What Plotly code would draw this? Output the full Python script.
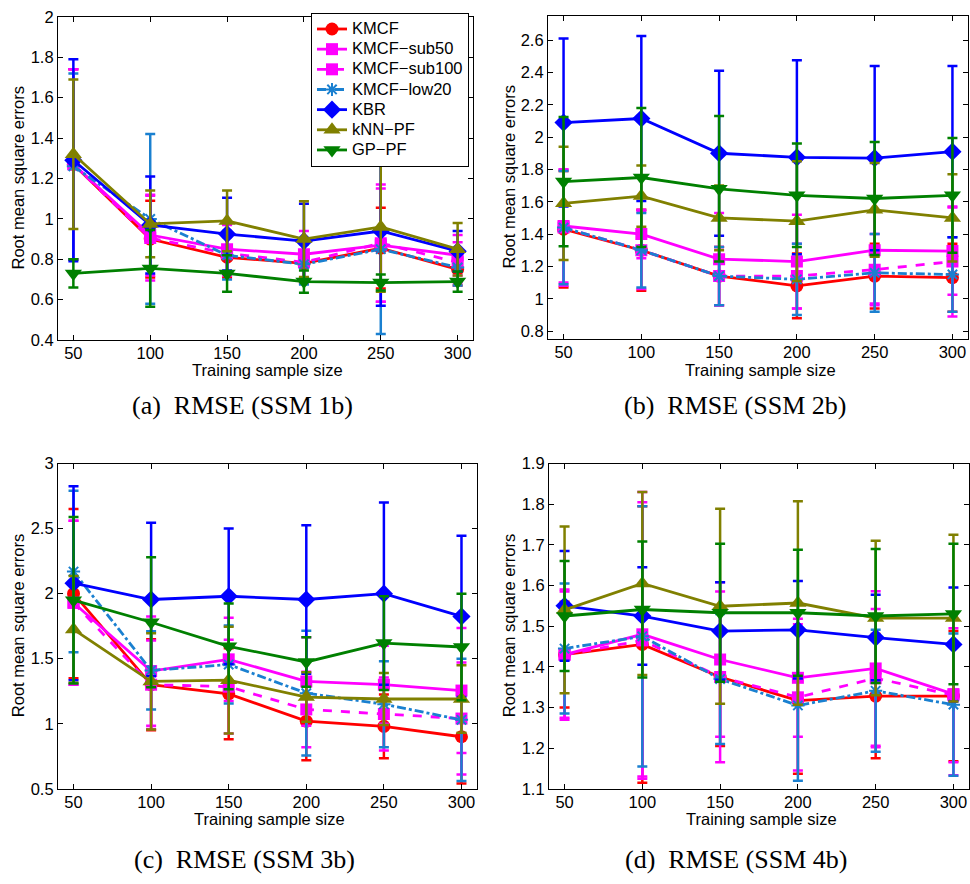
import plotly.graph_objects as go

W, H = 970, 884

x_sizes = [50, 100, 150, 200, 250, 300]
series_names = ["KMCF", "KMCF\u2212sub50", "KMCF\u2212sub100", "KMCF\u2212low20", "KBR", "kNN\u2212PF", "GP\u2212PF"]

# ---- Panel (a) SSM 1b ----
a_kmcf = [1.27, 0.90, 0.81, 0.78, 0.855, 0.75]
a_sub50 = [1.27, 0.92, 0.85, 0.825, 0.87, 0.82]
a_sub100 = [1.27, 0.905, 0.83, 0.785, 0.88, 0.785]
a_low20 = [1.26, 1.00, 0.82, 0.775, 0.85, 0.76]
a_kbr = [1.29, 0.97, 0.925, 0.89, 0.94, 0.84]
a_knn = [1.32, 0.975, 0.99, 0.90, 0.96, 0.85]
a_gp = [0.73, 0.755, 0.73, 0.69, 0.685, 0.69]
a_kmcf_sd = [0.47, 0.19, 0.10, 0.10, 0.20, 0.08]
a_sub50_sd = [0.47, 0.20, 0.12, 0.115, 0.28, 0.10]
a_sub100_sd = [0.47, 0.21, 0.11, 0.10, 0.29, 0.10]
a_low20_sd = [0.46, 0.42, 0.12, 0.10, 0.42, 0.09]
a_kbr_sd = [0.50, 0.24, 0.18, 0.185, 0.37, 0.10]
a_knn_sd = [0.37, 0.165, 0.15, 0.187, 0.32, 0.13]
a_gp_sd = [0.07, 0.19, 0.09, 0.055, 0.04, 0.05]

# ---- Panel (b) SSM 2b ----
b_kmcf = [1.43, 1.30, 1.14, 1.08, 1.14, 1.13]
b_sub50 = [1.45, 1.40, 1.245, 1.23, 1.30, 1.295]
b_sub100 = [1.44, 1.30, 1.14, 1.14, 1.18, 1.23]
b_low20 = [1.44, 1.30, 1.14, 1.12, 1.16, 1.15]
b_kbr = [2.09, 2.115, 1.90, 1.875, 1.87, 1.91]
b_knn = [1.59, 1.635, 1.50, 1.48, 1.55, 1.50]
b_gp = [1.725, 1.75, 1.68, 1.64, 1.62, 1.64]
b_kmcf_sd = [0.36, 0.25, 0.18, 0.20, 0.20, 0.21]
b_sub50_sd = [0.35, 0.15, 0.285, 0.29, 0.33, 0.27]
b_sub100_sd = [0.36, 0.24, 0.18, 0.20, 0.22, 0.34]
b_low20_sd = [0.35, 0.23, 0.18, 0.22, 0.24, 0.23]
b_kbr_sd = [0.52, 0.51, 0.51, 0.60, 0.57, 0.53]
b_knn_sd = [0.35, 0.19, 0.20, 0.37, 0.29, 0.27]
b_gp_sd = [0.40, 0.43, 0.45, 0.32, 0.35, 0.355]

# ---- Panel (c) SSM 3b ----
c_kmcf = [2.0, 1.30, 1.23, 1.02, 0.98, 0.90]
c_sub50 = [1.93, 1.405, 1.495, 1.325, 1.30, 1.255]
c_sub100 = [1.93, 1.30, 1.285, 1.11, 1.075, 1.04]
c_low20 = [2.17, 1.41, 1.455, 1.235, 1.15, 1.03]
c_kbr = [2.08, 1.955, 1.98, 1.955, 2.0, 1.825]
c_knn = [1.725, 1.325, 1.335, 1.205, 1.19, 1.19]
c_gp = [1.95, 1.78, 1.595, 1.475, 1.62, 1.59]
c_kmcf_sd = [0.65, 0.35, 0.35, 0.30, 0.245, 0.36]
c_sub50_sd = [0.63, 0.42, 0.32, 0.34, 0.30, 0.48]
c_sub100_sd = [0.63, 0.34, 0.36, 0.29, 0.28, 0.43]
c_low20_sd = [0.62, 0.30, 0.30, 0.48, 0.33, 0.47]
c_kbr_sd = [0.745, 0.59, 0.52, 0.57, 0.70, 0.62]
c_knn_sd = [0.41, 0.37, 0.41, 0.19, 0.20, 0.26]
c_gp_sd = [0.64, 0.50, 0.33, 0.19, 0.36, 0.41]

# ---- Panel (d) SSM 4b ----
d_kmcf = [1.43, 1.455, 1.375, 1.317, 1.328, 1.328]
d_sub50 = [1.43, 1.48, 1.418, 1.373, 1.396, 1.333]
d_sub100 = [1.43, 1.465, 1.375, 1.325, 1.372, 1.33]
d_low20 = [1.445, 1.475, 1.37, 1.305, 1.341, 1.307]
d_kbr = [1.55, 1.525, 1.488, 1.491, 1.472, 1.455]
d_knn = [1.54, 1.605, 1.549, 1.557, 1.52, 1.52]
d_gp = [1.525, 1.541, 1.533, 1.533, 1.525, 1.53]
d_kmcf_sd = [0.13, 0.34, 0.17, 0.18, 0.153, 0.16]
d_sub50_sd = [0.16, 0.35, 0.19, 0.145, 0.19, 0.20]
d_sub100_sd = [0.155, 0.34, 0.21, 0.18, 0.17, 0.165]
d_low20_sd = [0.16, 0.32, 0.16, 0.185, 0.15, 0.175]
d_kbr_sd = [0.135, 0.12, 0.12, 0.12, 0.105, 0.14]
d_knn_sd = [0.205, 0.225, 0.24, 0.25, 0.19, 0.205]
d_gp_sd = [0.135, 0.167, 0.17, 0.155, 0.165, 0.173]

panel_means = [
    [a_kmcf, a_sub50, a_sub100, a_low20, a_kbr, a_knn, a_gp],
    [b_kmcf, b_sub50, b_sub100, b_low20, b_kbr, b_knn, b_gp],
    [c_kmcf, c_sub50, c_sub100, c_low20, c_kbr, c_knn, c_gp],
    [d_kmcf, d_sub50, d_sub100, d_low20, d_kbr, d_knn, d_gp],
]
panel_sds = [
    [a_kmcf_sd, a_sub50_sd, a_sub100_sd, a_low20_sd, a_kbr_sd, a_knn_sd, a_gp_sd],
    [b_kmcf_sd, b_sub50_sd, b_sub100_sd, b_low20_sd, b_kbr_sd, b_knn_sd, b_gp_sd],
    [c_kmcf_sd, c_sub50_sd, c_sub100_sd, c_low20_sd, c_kbr_sd, c_knn_sd, c_gp_sd],
    [d_kmcf_sd, d_sub50_sd, d_sub100_sd, d_low20_sd, d_kbr_sd, d_knn_sd, d_gp_sd],
]

captions = ["(a)\u2002RMSE (SSM 1b)", "(b)\u2002RMSE (SSM 2b)", "(c)\u2002RMSE (SSM 3b)", "(d)\u2002RMSE (SSM 4b)"]
y_ranges = [[0.4, 2.0], [0.75, 2.75], [0.5, 3.0], [1.1, 1.9]]
y_tickvals = [
    [0.4, 0.6, 0.8, 1.0, 1.2, 1.4, 1.6, 1.8, 2.0],
    [0.8, 1.0, 1.2, 1.4, 1.6, 1.8, 2.0, 2.2, 2.4, 2.6],
    [0.5, 1.0, 1.5, 2.0, 2.5, 3.0],
    [1.1, 1.2, 1.3, 1.4, 1.5, 1.6, 1.7, 1.8, 1.9],
]
y_ticktext = [
    ["0.4", "0.6", "0.8", "1", "1.2", "1.4", "1.6", "1.8", "2"],
    ["0.8", "1", "1.2", "1.4", "1.6", "1.8", "2", "2.2", "2.4", "2.6"],
    ["0.5", "1", "1.5", "2", "2.5", "3"],
    ["1.1", "1.2", "1.3", "1.4", "1.5", "1.6", "1.7", "1.8", "1.9"],
]

colors = ["#ff0000", "#ff00ff", "#ff00ff", "#1a80d0", "#0000ff", "#808000", "#008000"]
dashes = ["solid", "solid", "dash", "dashdot", "solid", "solid", "solid"]
symbols = ["circle", "square", "square", "asterisk-open", "diamond", "triangle-up", "triangle-down"]
msizes = [13, 12, 12, 11, 14, 15, 15]

# plot boxes in pixels: (left, right, top, bottom)
boxes = [(58, 473, 8, 338), (548, 968, 7, 337), (58, 477, 464, 796), (549, 969, 464, 796)]

def px2x(px):
    return px / W

def px2y(py):
    return 1 - py / H

fig = go.Figure()
sans = "Liberation Sans, Arial, Helvetica, sans-serif"
serif = "Liberation Serif, Times New Roman, serif"
FS = 16.5

layout = dict(width=W, height=H, autosize=False, margin=dict(l=0, r=0, t=0, b=0),
              paper_bgcolor="white", plot_bgcolor="white", font=dict(family=sans, size=FS, color="black"))
annotations = []

for p in range(4):
    sfx = "" if p == 0 else str(p + 1)
    xa, ya = "x" + sfx, "y" + sfx
    for s in range(7):
        sym = symbols[s]
        marker = dict(symbol=sym, size=msizes[s], color=colors[s],
                      line=dict(color=colors[s], width=2 if "asterisk" in sym else 0))
        fig.add_trace(go.Scatter(
            x=x_sizes, y=panel_means[p][s],
            name='<span style="font-size:16.5px">' + series_names[s] + '</span>',
            mode="lines+markers", xaxis=xa, yaxis=ya,
            line=dict(color=colors[s], width=2.8, dash=dashes[s]),
            marker=marker,
            error_y=dict(type="data", array=panel_sds[p][s], visible=True,
                         color=colors[s], thickness=2.5, width=5),
            showlegend=(p == 0), legendgroup=series_names[s],
        ))
    l, r, t, b = boxes[p]
    axis_common = dict(showline=True, linecolor="black", linewidth=1.2, mirror="allticks",
                       ticks="inside", ticklen=5, tickcolor="black", tickwidth=1,
                       showgrid=False, zeroline=False,
                       tickfont=dict(family=sans, size=FS, color="black"))
    layout["xaxis" + sfx] = dict(axis_common, domain=[px2x(l), px2x(r)], range=[40, 310],
                                 tickvals=x_sizes, ticktext=[str(v) for v in x_sizes],
                                 ticklabelstandoff=-2, anchor=ya)
    layout["yaxis" + sfx] = dict(axis_common, domain=[px2y(b), px2y(t)], range=y_ranges[p],
                                 tickvals=y_tickvals[p], ticktext=y_ticktext[p],
                                 anchor=xa)
    cx = (l + r) / 2
    # x-axis title
    annotations.append(dict(text="Training sample size", x=px2x(cx + 2), y=px2y(b + 31),
                            xref="paper", yref="paper", showarrow=False,
                            xanchor="center", yanchor="middle",
                            font=dict(family=sans, size=FS, color="black")))
    # y-axis title
    ytx = 18 if p % 2 == 0 else 509
    annotations.append(dict(text="Root mean square errors", x=px2x(ytx),
                            y=px2y((t + b) / 2), xref="paper", yref="paper", showarrow=False,
                            textangle=-90, xanchor="center", yanchor="middle",
                            font=dict(family=sans, size=FS, color="black")))
    # caption
    cap_y = 405 if p < 2 else 868
    annotations.append(dict(text=captions[p], x=px2x(cx - 23), y=px2y(cap_y),
                            xref="paper", yref="paper", showarrow=False,
                            xanchor="center", yanchor="middle",
                            font=dict(family=serif, size=26, color="black")))

layout["annotations"] = annotations
layout["legend"] = dict(x=px2x(469), y=px2y(4), xanchor="right", yanchor="top",
                        bgcolor="white", bordercolor="black", borderwidth=1,
                        font=dict(family=sans, size=13.2, color="black"),
                        tracegroupgap=0, itemwidth=30)
fig.update_layout(**layout)
fig.write_html("out.html", post_script="document.body.style.margin='0';",
               config={"displayModeBar": False})
